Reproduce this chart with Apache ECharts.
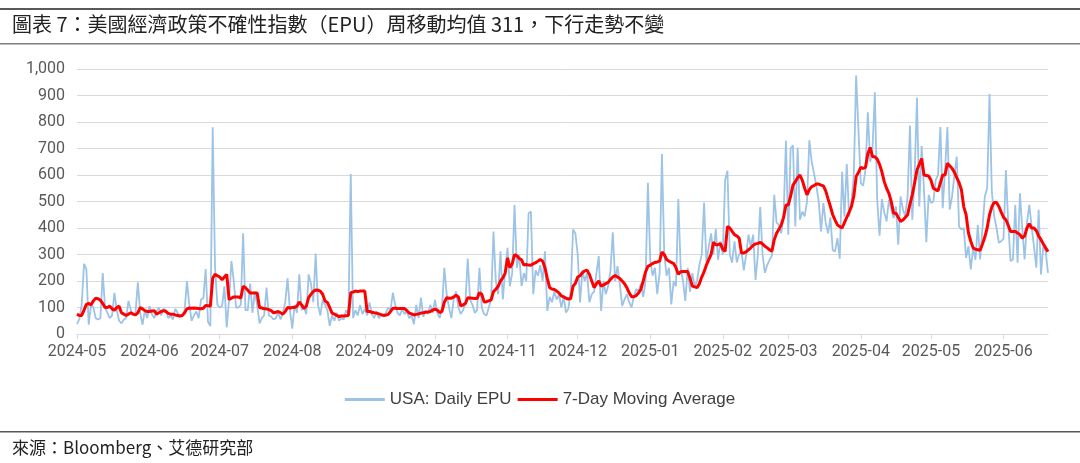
<!DOCTYPE html>
<html>
<head>
<meta charset="utf-8">
<script src="https://cdn.jsdelivr.net/npm/echarts@6/dist/echarts.min.js"></script>
<style>
html,body{margin:0;padding:0;background:#fff;}
#chart{width:1080px;height:463px;}
</style>
</head>
<body>
<div id="chart"></div>
<script>
const titleText = '圖表 7：美國經濟政策不確性指數（EPU）周移動均值 311，下行走勢不變';
const sourceText = '來源：Bloomberg、艾德研究部';
const seriesNames = ['USA: Daily EPU', '7-Day Moving Average'];
const startDate = '2024-05-01';
const yTicks = [0, 100, 200, 300, 400, 500, 600, 700, 800, 900, 1000];

// Daily EPU, 2024-05-01 .. 2025-06-20 (one value per day, by month)
const dailyEPU = [
  37,56,110,265,245,35,110,100,60,55,60,230,100,80,60,70,155,90,50,40,55,60,125,90,70,80,195,80,35,90,60,
  105,75,60,85,100,70,95,90,60,70,55,95,80,65,70,90,200,110,50,70,85,60,130,135,245,45,30,780,250,110,
  100,105,180,25,130,275,200,100,100,110,380,90,90,190,80,160,110,40,60,70,175,70,65,55,60,80,55,80,120,210,90,
  20,110,80,225,90,100,75,225,190,120,304,110,70,130,110,90,31,70,50,80,50,60,55,90,75,604,60,90,70,110,75,
  95,70,119,75,60,85,60,70,65,80,100,90,156,110,80,70,95,75,85,60,70,37,110,60,137,65,90,75,110,80,
  129,80,60,100,250,150,100,60,130,160,100,75,90,120,285,130,110,80,90,250,100,75,70,100,130,387,200,150,312,130,240,
  325,180,230,487,250,300,181,230,200,456,462,150,240,220,260,200,312,87,140,120,160,130,150,100,140,81,95,160,394,380,
  300,119,240,200,230,120,150,160,230,294,87,200,150,180,240,384,200,256,190,106,130,150,120,100,140,170,160,190,140,200,571,
  280,220,250,150,230,679,300,220,250,112,200,180,509,250,200,125,250,160,230,180,200,260,300,496,270,330,380,300,396,280,350,
  300,581,616,300,269,350,270,300,312,240,300,375,330,375,204,300,479,300,231,260,280,294,525,420,412,380,450,729,
  375,700,712,406,704,431,462,444,500,731,650,606,560,500,387,494,419,380,440,316,312,362,284,612,444,641,444,500,600,975,769,
  569,560,620,837,650,700,912,506,371,509,460,425,506,470,437,481,337,519,470,444,520,787,431,600,891,481,709,544,346,525,
  494,500,581,600,781,475,620,781,469,519,600,669,406,394,400,287,331,244,325,280,412,281,400,519,550,906,537,444,400,344,350,
  360,619,419,275,281,487,269,531,400,281,419,487,406,331,250,469,225,331,312,231
];

// 7-day moving average, same dates
const movingAvg7 = [
  75,70,70,90,112,115,110,125,135,133,128,115,100,100,105,95,90,100,105,80,75,70,75,80,75,72,80,100,95,88,85,
  85,87,88,75,80,85,88,85,78,75,75,72,70,68,70,80,95,98,97,98,97,96,95,97,108,107,105,210,225,220,
  215,205,215,225,130,135,140,140,140,135,180,175,165,155,155,155,155,100,98,95,95,92,88,80,82,85,80,75,85,100,98,
  100,100,105,121,110,96,105,137,150,160,166,165,162,150,125,119,100,79,75,70,66,68,68,69,70,156,158,162,160,162,162,
  162,85,85,82,80,79,76,73,71,71,74,85,97,97,96,96,96,96,88,79,76,72,74,76,79,80,82,83,85,90,
  94,90,81,85,120,137,135,135,140,146,140,106,110,115,137,136,135,134,134,156,150,121,122,125,129,160,169,180,200,212,230,
  287,250,265,300,295,285,280,260,262,260,259,265,269,275,281,275,250,210,175,170,168,162,155,144,140,135,132,134,180,191,
  215,220,231,238,241,225,200,175,190,200,181,185,190,195,206,215,221,215,209,200,190,175,155,141,141,145,155,169,200,234,255,
  260,266,270,272,275,309,300,281,275,270,266,250,225,235,236,236,236,210,181,178,175,190,215,234,260,281,300,346,337,337,341,
  320,312,406,400,387,375,370,362,306,306,310,318,325,335,340,342,346,340,331,325,318,312,356,380,395,412,440,487,
  487,520,562,575,590,600,580,550,525,545,556,560,566,566,562,559,540,510,481,450,430,412,405,400,420,440,460,481,520,594,610,
  629,625,629,680,704,669,669,660,640,612,575,550,531,500,456,456,440,425,430,440,450,490,525,570,619,640,662,600,598,596,
  580,550,545,540,570,600,600,644,635,625,610,590,571,544,480,450,381,350,325,320,318,316,340,366,400,450,480,496,496,481,460,
  440,431,410,387,387,387,381,375,362,370,400,416,400,400,390,370,356,340,325,311
];

// category dates (one per daily value)
const dates = [];
(function(){
  const d0 = new Date(startDate + 'T00:00:00Z');
  for (let i = 0; i < dailyEPU.length; i++) {
    const d = new Date(d0.getTime() + i * 86400000);
    dates.push(d.toISOString().slice(0, 10));
  }
})();

const isMonthStart = (idx, val) => String(val).slice(8, 10) === '01';

const chart = echarts.init(document.getElementById('chart'), null, {renderer: 'canvas'});
chart.setOption({
  animation: false,
  backgroundColor: '#ffffff',
  textStyle: {fontFamily: 'Roboto, "Liberation Sans", sans-serif'},
  grid: {left: 77, right: 32, top: 69, bottom: 129, containLabel: false},
  xAxis: {
    type: 'category',
    data: dates,
    boundaryGap: false,
    axisLine: {lineStyle: {color: '#d9d9d9', width: 1}},
    axisTick: {show: true, interval: isMonthStart, length: 5, lineStyle: {color: '#d9d9d9'}},
    axisLabel: {
      interval: isMonthStart,
      formatter: v => v.slice(0, 7),
      color: '#595959',
      fontSize: 16,
      margin: 10,
      hideOverlap: false
    },
    splitLine: {show: false}
  },
  yAxis: {
    type: 'value',
    min: yTicks[0],
    max: yTicks[yTicks.length - 1],
    interval: 100,
    axisLine: {show: false},
    axisTick: {show: false},
    axisLabel: {
      color: '#595959',
      fontSize: 16,
      margin: 12,
      formatter: v => Number(v).toLocaleString('en-US')
    },
    splitLine: {lineStyle: {color: '#d9d9d9', width: 1}}
  },
  legend: {
    top: 386,
    left: 'center',
    itemWidth: 40,
    itemHeight: 3,
    itemGap: 6,
    icon: 'rect',
    textStyle: {color: '#404040', fontSize: 17, fontFamily: '"Liberation Sans", Arial, sans-serif'},
    data: seriesNames
  },
  series: [
    {
      name: seriesNames[0],
      type: 'line',
      data: dailyEPU,
      symbol: 'none',
      lineStyle: {color: '#9dc3e6', width: 1.8},
      itemStyle: {color: '#9dc3e6'},
      z: 2
    },
    {
      name: seriesNames[1],
      type: 'line',
      data: movingAvg7,
      symbol: 'none',
      lineStyle: {color: '#ff0000', width: 3},
      itemStyle: {color: '#ff0000'},
      z: 3
    }
  ],
  graphic: [
    {type: 'rect', shape: {x: 0, y: 8, width: 1080, height: 2}, style: {fill: '#595959'}, silent: true},
    {type: 'text', left: 12, top: 14, style: {text: titleText, fill: '#222222', font: '20px "Noto Sans CJK TC", sans-serif'}},
    {type: 'rect', shape: {x: 0, y: 43, width: 1080, height: 1.5}, style: {fill: '#7f7f7f'}, silent: true},
    {type: 'rect', shape: {x: 0, y: 431, width: 1080, height: 1.5}, style: {fill: '#595959'}, silent: true},
    {type: 'text', left: 12, top: 439, style: {text: sourceText, fill: '#222222', font: '17px "Noto Sans CJK TC", sans-serif'}}
  ]
});
</script>
</body>
</html>
